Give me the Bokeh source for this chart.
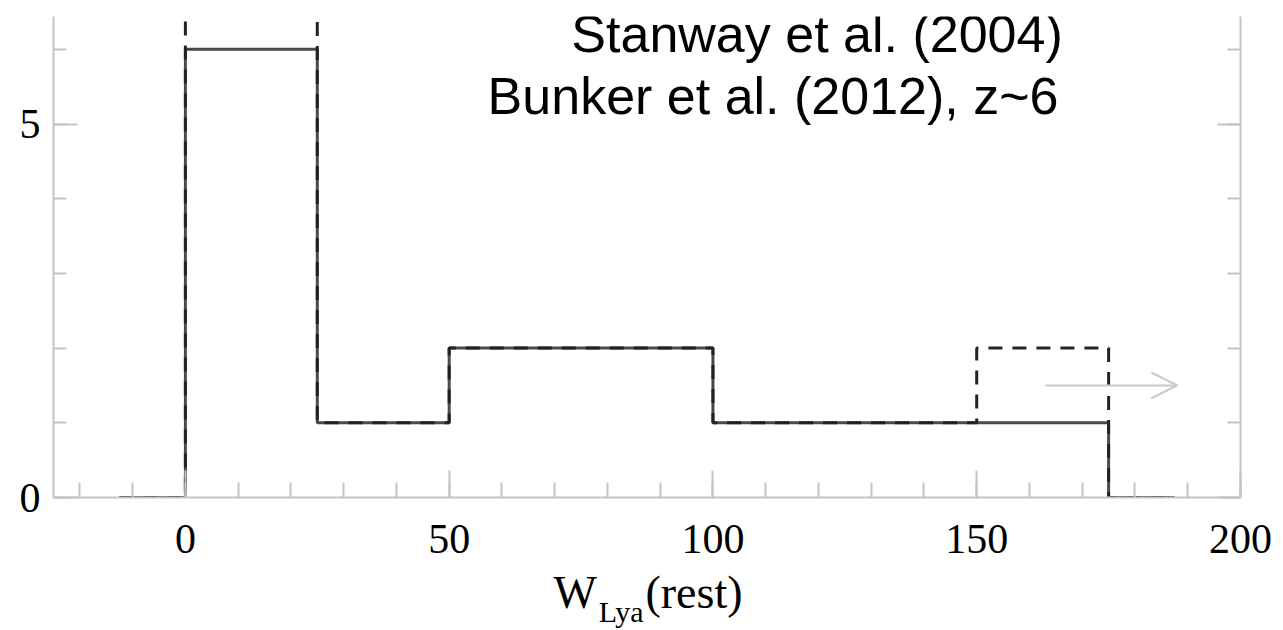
from bokeh.plotting import figure
from bokeh.models import (FixedTicker, LinearAxis, Label, Arrow, OpenHead, Range1d)
from bokeh.embed import file_html
from bokeh.resources import INLINE

# ---- data ----
bin_edges = [-12.5, 0, 25, 50, 100, 150, 175, 187.5]
counts_stanway = [0, 6, 1, 2, 1, 1, 0]      # solid
counts_bunker = [0, 7, 1, 2, 1, 2, 0]       # dashed (first bin clipped)
x_major = [0, 50, 100, 150, 200]
x_minor = [-20, -10, 0, 10, 20, 30, 40, 50, 60, 70, 80, 90, 100, 110, 120,
           130, 140, 150, 160, 170, 180, 190, 200]
y_major = [0, 5]
y_minor = [0, 1, 2, 3, 4, 5, 6]
arrow_x = [163, 188]
arrow_y = 1.5
legend_lines = ["Stanway et al. (2004)", "Bunker et al. (2012), z~6"]
xlabel_main = {73.9: "W", 96.4: "(rest)"}
xlabel_sub = {82.6: "Lya"}


def step_xy(edges, counts):
    xs, ys = [], []
    for i, c in enumerate(counts):
        xs += [edges[i], edges[i + 1]]
        ys += [c, c]
    return xs, ys


AX = "#c4c4c4"
SERIF = "Liberation Serif"

p = figure(width=1283, height=630, output_backend="svg",
           toolbar_location=None, x_range=Range1d(-25, 200),
           y_range=Range1d(0, 6.44), min_border_left=53, min_border_top=16,
           min_border_right=43, min_border_bottom=131)
p.outline_line_color = None
p.xgrid.visible = False
p.ygrid.visible = False
p.background_fill_color = "white"
p.border_fill_color = "white"

# right axis
p.add_layout(LinearAxis(), "right")

for ax in p.xaxis:
    ax.ticker = FixedTicker(ticks=x_major, minor_ticks=x_minor)
for ax in p.yaxis:
    ax.ticker = FixedTicker(ticks=y_major, minor_ticks=y_minor)

for ax in list(p.xaxis) + list(p.yaxis):
    ax.axis_line_color = AX
    ax.axis_line_width = 2
    ax.major_tick_line_color = AX
    ax.minor_tick_line_color = AX
    ax.major_tick_line_width = 2
    ax.minor_tick_line_width = 2
    ax.major_tick_out = 0
    ax.minor_tick_out = 0
    ax.major_label_text_font = SERIF
    ax.major_label_text_font_size = "42px"
    ax.major_label_text_color = "black"

p.xaxis[0].major_tick_in = 27
p.xaxis[0].minor_tick_in = 15
p.xaxis[0].major_label_standoff = 27
p.yaxis[0].major_tick_in = 24
p.yaxis[0].minor_tick_in = 13
p.yaxis[0].major_label_standoff = 13
p.yaxis[1].major_tick_in = 23
p.yaxis[1].minor_tick_in = 13
p.yaxis[1].major_label_overrides = {0: "", 5: ""}


def label_axis(labels, size, standoff):
    ax = LinearAxis(ticker=FixedTicker(ticks=list(labels.keys())),
                    major_label_overrides=dict(labels),
                    axis_line_color=None, major_tick_line_color=None,
                    minor_tick_line_color=None, major_tick_in=0,
                    major_tick_out=0, minor_tick_in=0, minor_tick_out=0,
                    major_label_standoff=standoff,
                    major_label_text_font=SERIF,
                    major_label_text_font_size=size,
                    major_label_text_color="black")
    p.add_layout(ax, "below")
    return ax


label_axis(xlabel_main, "46px", 11)
label_axis(xlabel_sub, "30px", -26)

xs, ys = step_xy(bin_edges, counts_stanway)
p.line(xs, ys, line_color="#4a4a4a", line_width=3)
xs2, ys2 = step_xy(bin_edges, counts_bunker)
p.line(xs2, ys2, line_color="#222222", line_width=3, line_dash="14 10")

p.add_layout(Arrow(end=OpenHead(size=26, line_color="#c8c8c8", line_width=2),
                   x_start=arrow_x[0], y_start=arrow_y, x_end=arrow_x[1],
                   y_end=arrow_y, line_color="#c8c8c8", line_width=2))

# legend-like texts
p.add_layout(Label(x=166.3, y=6.2, text=legend_lines[0], text_align="right",
                   text_baseline="alphabetic", text_font="Liberation Sans",
                   text_font_size="52px", text_color="black"))
p.add_layout(Label(x=165.5, y=5.38, text=legend_lines[1], text_align="right",
                   text_baseline="alphabetic", text_font="Liberation Sans",
                   text_font_size="52px", text_color="black"))

open("out.html", "w").write(file_html(p, INLINE))
